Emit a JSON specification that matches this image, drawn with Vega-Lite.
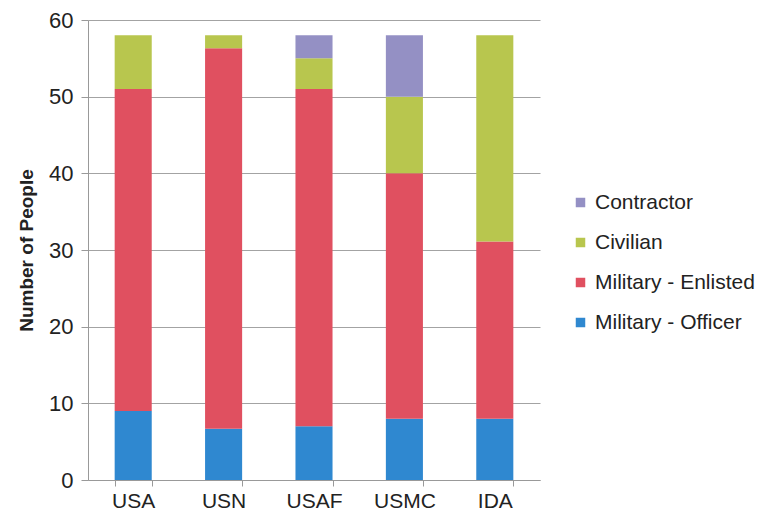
{
  "$schema": "https://vega.github.io/schema/vega-lite/v6.json",
  "width": 452,
  "height": 460,
  "autosize": {"type": "none"},
  "padding": {"left": 88, "top": 20, "right": 234, "bottom": 40},
  "background": "white",
  "config": {
    "view": {"stroke": null},
    "font": "Liberation Sans"
  },
  "data": {
    "values": [
      {"org": "USA", "type": "Military - Officer", "rank": 1, "count": 9},
      {"org": "USA", "type": "Military - Enlisted", "rank": 2, "count": 42},
      {"org": "USA", "type": "Civilian", "rank": 3, "count": 7},
      {"org": "USA", "type": "Contractor", "rank": 4, "count": 0},
      {"org": "USN", "type": "Military - Officer", "rank": 1, "count": 6.7},
      {"org": "USN", "type": "Military - Enlisted", "rank": 2, "count": 49.6},
      {"org": "USN", "type": "Civilian", "rank": 3, "count": 1.7},
      {"org": "USN", "type": "Contractor", "rank": 4, "count": 0},
      {"org": "USAF", "type": "Military - Officer", "rank": 1, "count": 7},
      {"org": "USAF", "type": "Military - Enlisted", "rank": 2, "count": 44},
      {"org": "USAF", "type": "Civilian", "rank": 3, "count": 4},
      {"org": "USAF", "type": "Contractor", "rank": 4, "count": 3},
      {"org": "USMC", "type": "Military - Officer", "rank": 1, "count": 8},
      {"org": "USMC", "type": "Military - Enlisted", "rank": 2, "count": 32},
      {"org": "USMC", "type": "Civilian", "rank": 3, "count": 10},
      {"org": "USMC", "type": "Contractor", "rank": 4, "count": 8},
      {"org": "IDA", "type": "Military - Officer", "rank": 1, "count": 8},
      {"org": "IDA", "type": "Military - Enlisted", "rank": 2, "count": 23.1},
      {"org": "IDA", "type": "Civilian", "rank": 3, "count": 26.9},
      {"org": "IDA", "type": "Contractor", "rank": 4, "count": 0}
    ]
  },
  "mark": {"type": "bar"},
  "encoding": {
    "x": {
      "field": "org",
      "type": "nominal",
      "sort": ["USA", "USN", "USAF", "USMC", "IDA"],
      "scale": {"paddingInner": 0.59, "paddingOuter": 0.295},
      "axis": {
        "title": null,
        "orient": "bottom",
        "labelAngle": 0,
        "labelFontSize": 21,
        "labelColor": "#222",
        "labelPadding": 4,
        "ticks": true,
        "tickBand": "extent",
        "tickSize": 6,
        "tickColor": "#999",
        "domain": true,
        "domainColor": "#999"
      }
    },
    "y": {
      "field": "count",
      "type": "quantitative",
      "stack": "zero",
      "scale": {"domain": [0, 60]},
      "axis": {
        "title": "Number of People",
        "titleFontSize": 19,
        "titleFontWeight": "bold",
        "titleColor": "#222",
        "titlePadding": 12,
        "values": [0, 10, 20, 30, 40, 50, 60],
        "labelFontSize": 22,
        "labelColor": "#222",
        "labelPadding": 8,
        "tickSize": 7,
        "tickColor": "#999",
        "domainColor": "#999",
        "gridColor": "#999",
        "gridOpacity": 0.9
      }
    },
    "color": {
      "field": "type",
      "type": "nominal",
      "scale": {
        "domain": ["Contractor", "Civilian", "Military - Enlisted", "Military - Officer"],
        "range": ["#9490c4", "#b8c64e", "#e05060", "#2f88d0"]
      },
      "legend": {
        "title": null,
        "orient": "none",
        "legendX": 482,
        "legendY": 172,
        "labelFontSize": 21,
        "labelColor": "#222",
        "symbolType": "square",
        "symbolSize": 90,
        "symbolStrokeWidth": 0,
        "rowPadding": 18,
        "labelOffset": 4
      }
    },
    "order": {"field": "rank", "type": "quantitative"}
  }
}
